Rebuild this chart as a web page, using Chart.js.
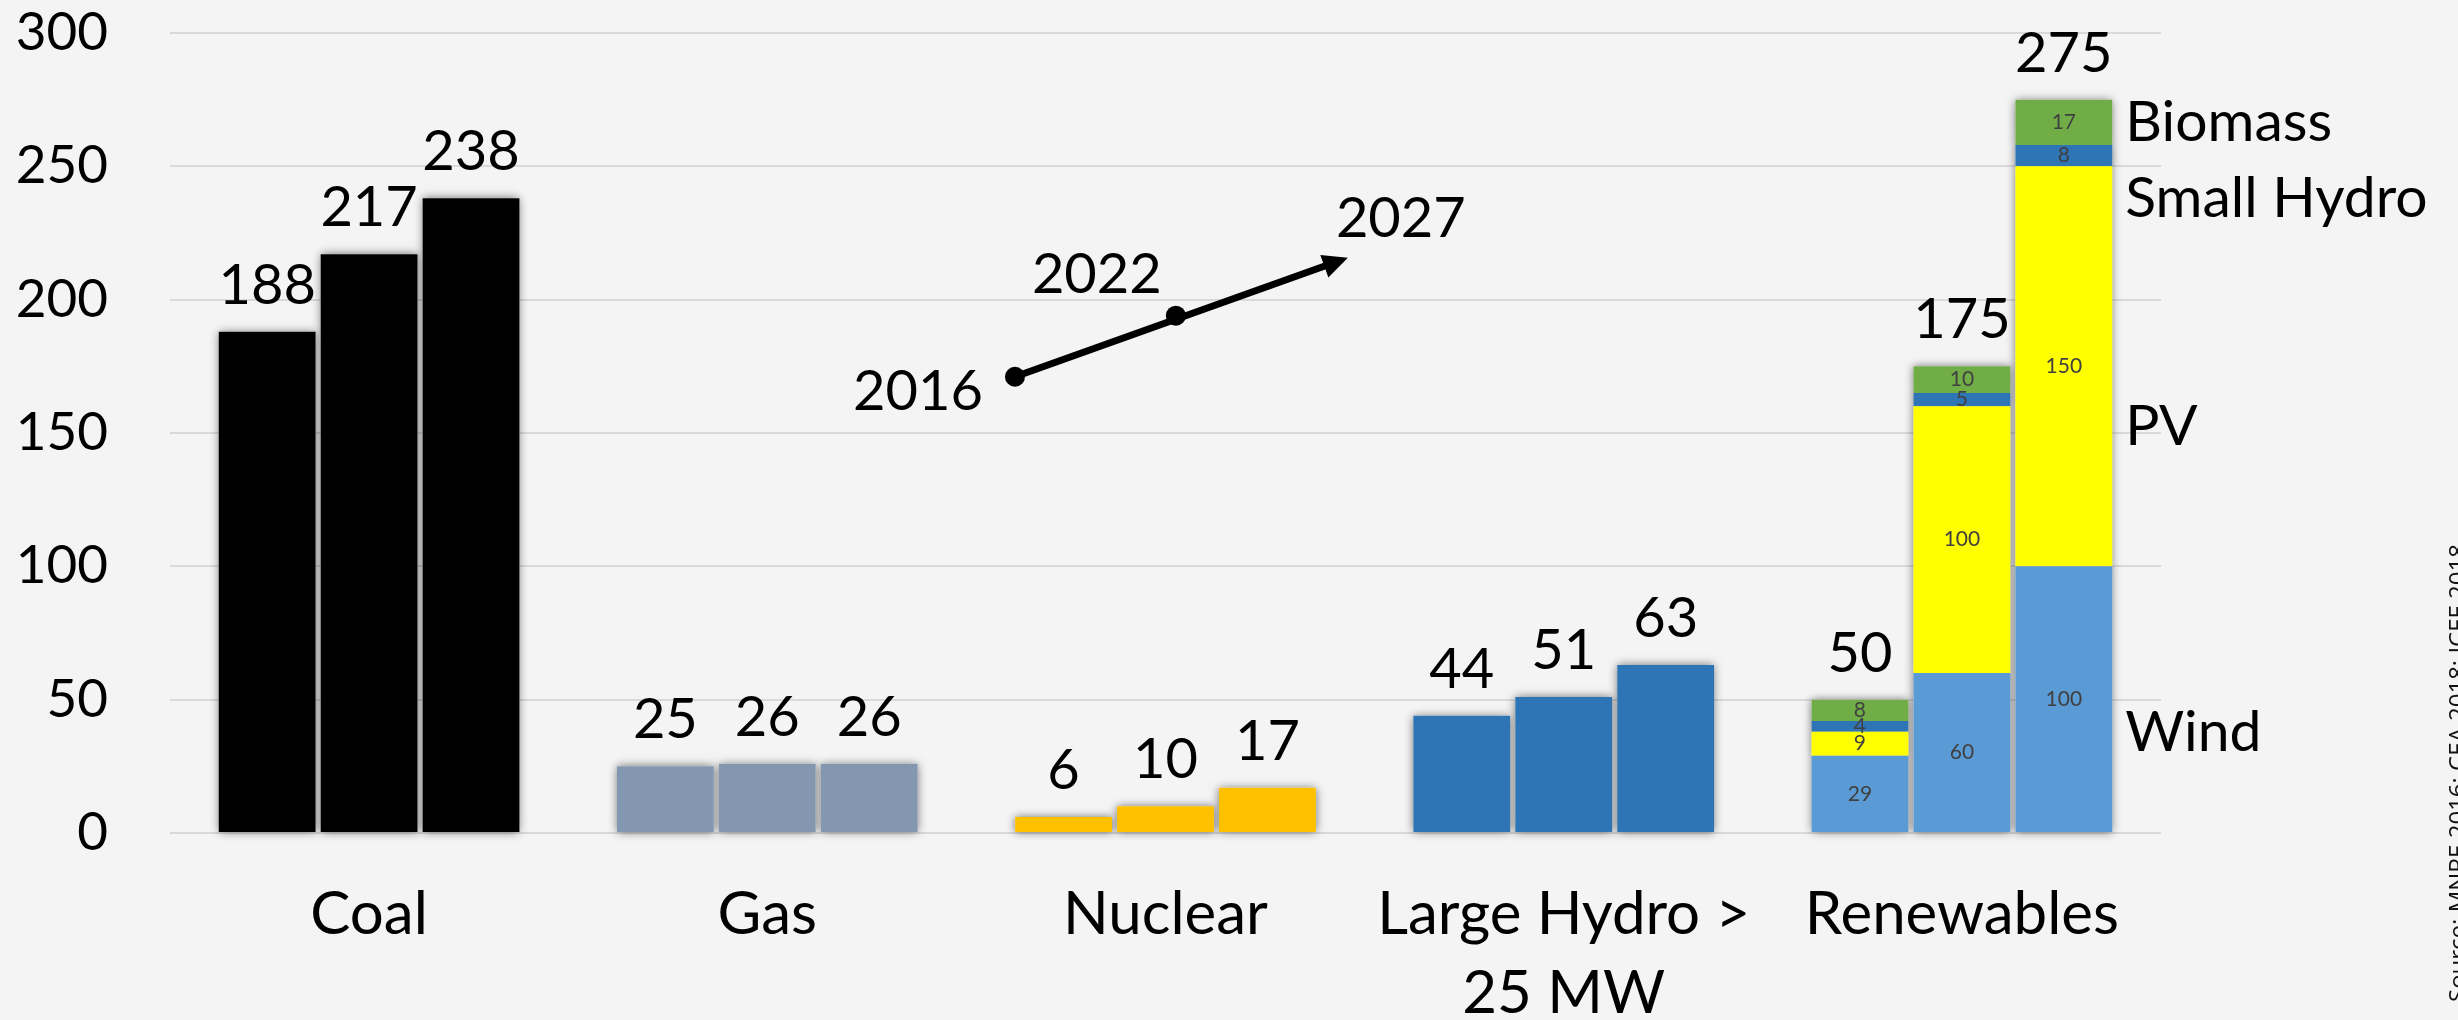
<!DOCTYPE html>
<html lang="en">
<head>
<meta charset="UTF-8" />
<title>Installed capacity by source, 2016 / 2022 / 2027</title>
<script src="https://cdn.jsdelivr.net/npm/chart.js"></script>
<style>
  html, body { margin: 0; padding: 0; background: #f4f4f4; }
  canvas { display: block; }
</style>
</head>
<body>
<canvas id="chart" width="2458" height="1020"></canvas>
<script>
  const categories = ['Coal', 'Gas', 'Nuclear', ['Large Hydro >', '25 MW'], 'Renewables'];
  const years = ['2016', '2022', '2027'];

  // Coal, Gas, Nuclear, Large Hydro
  const conventional2016 = [188, 25, 6, 44];
  const conventional2022 = [217, 26, 10, 51];
  const conventional2027 = [238, 26, 17, 63];

  // renewables split, one value per year (2016, 2022, 2027)
  const wind = [29, 60, 100];
  const pv = [9, 100, 150];
  const smallHydro = [4, 5, 8];
  const biomass = [8, 10, 17];

  const yTicks = [0, 50, 100, 150, 200, 250, 300];

  const BG = '#f4f4f4';
  const FONT = 'Lato';
  const convColors = ['#000000', '#8497B0', '#FFC000', '#2E75B6'];
  const segParts = [
    { name: 'Wind', data: wind, color: '#5B9BD5' },
    { name: 'PV', data: pv, color: '#FFFF00' },
    { name: 'Small Hydro', data: smallHydro, color: '#2E75B6' },
    { name: 'Biomass', data: biomass, color: '#70AD47' }
  ];
  const convByYear = [conventional2016, conventional2022, conventional2027];
  const nRenew = categories.length - 1;

  const datasets = [];
  years.forEach((yr, i) => {
    datasets.push({
      label: 'Conventional ' + yr,
      kind: 'main',
      data: [...convByYear[i], null],
      backgroundColor: convColors,
      stack: yr
    });
    segParts.forEach((p, k) => {
      const d = categories.map(() => null);
      d[nRenew] = p.data[i];
      datasets.push({
        label: p.name + ' ' + yr,
        kind: 'seg',
        top: k === segParts.length - 1,
        data: d,
        backgroundColor: p.color,
        stack: yr
      });
    });
  });

  const bgPlugin = {
    id: 'bg',
    beforeDraw(chart) {
      const ctx = chart.ctx;
      ctx.save();
      ctx.fillStyle = BG;
      ctx.fillRect(0, 0, chart.width, chart.height);
      ctx.restore();
    }
  };

  // soft shadow behind every bar, drawn first so the bars cover the inner part
  const shadowPlugin = {
    id: 'barShadow',
    beforeDatasetsDraw(chart) {
      const ctx = chart.ctx;
      ctx.save();
      ctx.shadowColor = 'rgba(0,0,0,0.55)';
      ctx.shadowBlur = 9;
      ctx.fillStyle = BG;
      chart.getSortedVisibleDatasetMetas().forEach(meta => {
        meta.data.forEach((el, idx) => {
          const v = chart.data.datasets[meta.index].data[idx];
          if (v === null || v === undefined) return;
          const { x, y, base, width } = el.getProps(['x', 'y', 'base', 'width'], true);
          ctx.fillRect(x - width / 2, Math.min(y, base), width, Math.abs(base - y));
        });
      });
      ctx.restore();
    }
  };

  const labelPlugin = {
    id: 'labels',
    afterDatasetsDraw(chart) {
      const ctx = chart.ctx;
      const xs = chart.scales.x, ys = chart.scales.y;
      ctx.save();
      ctx.textAlign = 'center';

      chart.data.datasets.forEach((ds, di) => {
        const meta = chart.getDatasetMeta(di);
        meta.data.forEach((el, idx) => {
          const v = ds.data[idx];
          if (v === null || v === undefined) return;
          const { x, y, base } = el.getProps(['x', 'y', 'base'], true);
          if (ds.kind === 'main') {
            ctx.fillStyle = '#000';
            ctx.font = `56px ${FONT}`;
            ctx.textBaseline = 'alphabetic';
            ctx.fillText(String(v), x, y - 28);
          } else {
            ctx.fillStyle = '#404040';
            ctx.font = `21px ${FONT}`;
            ctx.textBaseline = 'middle';
            ctx.fillText(String(v), x, (y + base) / 2);
            if (ds.top) {
              const yi = years.indexOf(ds.stack);
              const total = segParts.reduce((s, p) => s + p.data[yi], 0);
              ctx.fillStyle = '#000';
              ctx.font = `56px ${FONT}`;
              ctx.textBaseline = 'alphabetic';
              ctx.fillText(String(total), x, y - 28);
            }
          }
        });
      });

      // names of the renewable parts, right of the last bar
      const lastMeta = chart.getDatasetMeta(chart.data.datasets.length - 1);
      const lastEl = lastMeta.data[nRenew];
      const nameX = lastEl.x + lastEl.width / 2 + 13;
      ctx.textAlign = 'left';
      ctx.textBaseline = 'middle';
      ctx.fillStyle = '#000';
      ctx.font = `57px ${FONT}`;
      [['Biomass', 266.5], ['Small Hydro', 238], ['PV', 152.5], ['Wind', 37.5]].forEach(([t, at]) => {
        ctx.fillText(t, nameX, ys.getPixelForValue(at));
      });

      // time arrow 2016 -> 2022 -> 2027
      const p1 = { x: xs.getPixelForValue(1.622), y: ys.getPixelForValue(171.1) };
      const p2 = { x: xs.getPixelForValue(2.026), y: ys.getPixelForValue(194.0) };
      const tip = { x: xs.getPixelForValue(2.458), y: ys.getPixelForValue(215.7) };
      const dx = tip.x - p1.x, dy = tip.y - p1.y;
      const len = Math.hypot(dx, dy);
      const ux = dx / len, uy = dy / len;
      const headL = 25, headW = 12;
      const bx = tip.x - ux * headL, by = tip.y - uy * headL;
      ctx.strokeStyle = '#000';
      ctx.fillStyle = '#000';
      ctx.lineWidth = 7;
      ctx.beginPath();
      ctx.moveTo(p1.x, p1.y);
      ctx.lineTo(bx + ux * 2, by + uy * 2);
      ctx.stroke();
      ctx.beginPath();
      ctx.moveTo(tip.x, tip.y);
      ctx.lineTo(bx - uy * headW, by + ux * headW);
      ctx.lineTo(bx + uy * headW, by - ux * headW);
      ctx.closePath();
      ctx.fill();
      [p1, p2].forEach(p => {
        ctx.beginPath();
        ctx.arc(p.x, p.y, 10, 0, Math.PI * 2);
        ctx.fill();
      });

      ctx.font = `56px ${FONT}`;
      ctx.textBaseline = 'middle';
      ctx.textAlign = 'right';
      ctx.fillText('2016', p1.x - 32, p1.y + 15);
      ctx.textAlign = 'center';
      ctx.fillText('2022', p2.x - 79, p2.y - 41);
      ctx.textAlign = 'left';
      ctx.fillText('2027', tip.x - 12, tip.y - 39);

      // source note, rotated along the right edge
      ctx.translate(2447, 1002);
      ctx.rotate(-Math.PI / 2);
      ctx.font = '24px "Open Sans"';
      ctx.textAlign = 'left';
      ctx.textBaseline = 'top';
      ctx.fillStyle = '#111';
      ctx.fillText('Source: MNRE 2016; CEA 2018; ICEE 2018', 0, 0);
      ctx.restore();
    }
  };

  new Chart(document.getElementById('chart'), {
    type: 'bar',
    data: { labels: categories, datasets },
    options: {
      responsive: false,
      animation: false,
      devicePixelRatio: 1,
      layout: { padding: { top: 33, right: 297, bottom: 0, left: 0 } },
      datasets: {
        bar: { categoryPercentage: 0.768, barPercentage: 0.95, borderWidth: 0 }
      },
      plugins: {
        legend: { display: false },
        tooltip: { enabled: false }
      },
      scales: {
        x: {
          stacked: true,
          grid: { display: false },
          border: { display: false },
          afterFit: s => { s.height = 187; },
          ticks: {
            color: '#000',
            padding: 34,
            maxRotation: 0,
            autoSkip: false,
            font: { family: FONT, size: 60, lineHeight: 1.32 }
          }
        },
        y: {
          stacked: true,
          min: 0,
          max: 300,
          afterFit: s => { s.width = 170; },
          afterBuildTicks: s => { s.ticks = yTicks.map(v => ({ value: v })); },
          // the invisible tick marks hold the gap between labels and plot
          grid: { color: '#D9D9D9', lineWidth: 2, drawTicks: true, tickLength: 62, tickColor: 'rgba(0,0,0,0)' },
          border: { display: false },
          ticks: {
            color: '#000',
            padding: 0,
            font: { family: FONT, size: 53 }
          }
        }
      }
    },
    plugins: [bgPlugin, shadowPlugin, labelPlugin]
  });
</script>
</body>
</html>
